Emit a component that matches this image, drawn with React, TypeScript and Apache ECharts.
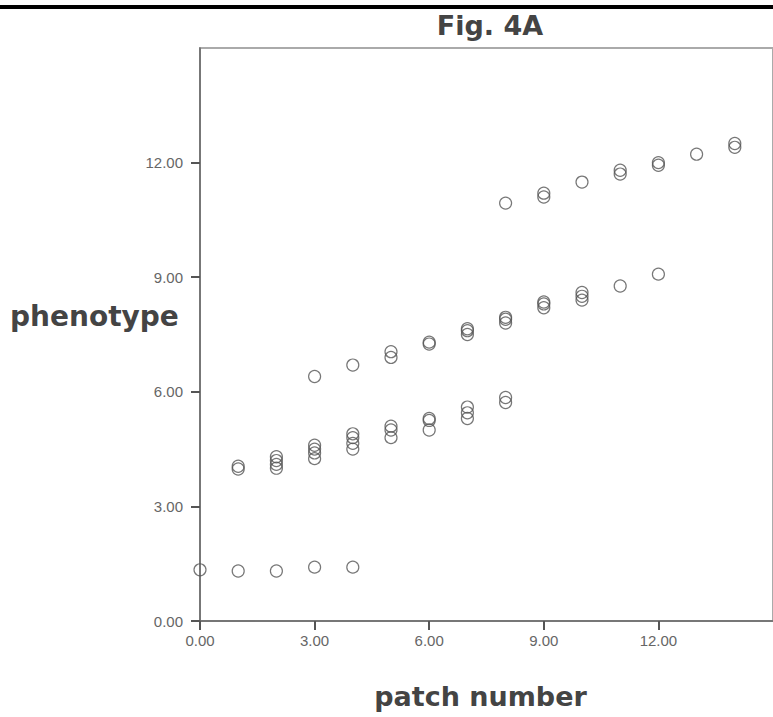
import React, { useEffect, useRef } from "react";
import * as echarts from "echarts";

const titleText = "Fig. 4A";
const xAxisTitle = "patch number";
const yAxisTitle = "phenotype";

// group 1: bottom row
const bottomX = [0, 1, 2, 3, 4];
const bottomY = [1.34, 1.31, 1.31, 1.41, 1.41];

// group 2: lower band
const lowerX = [1, 1, 2, 2, 2, 2, 3, 3, 3, 3, 4, 4, 4, 4, 5, 5, 5, 6, 6, 6, 7, 7, 7, 8, 8];
const lowerY = [3.98, 4.05, 4.0, 4.1, 4.2, 4.3, 4.25, 4.4, 4.5, 4.6, 4.5, 4.65, 4.8, 4.9, 4.8, 5.0, 5.1, 5.0, 5.25, 5.3, 5.3, 5.45, 5.6, 5.72, 5.85];

// group 3: middle band
const middleX = [3, 4, 5, 5, 6, 6, 7, 7, 7, 8, 8, 8, 9, 9, 9, 10, 10, 10, 11, 12];
const middleY = [6.4, 6.7, 6.9, 7.05, 7.25, 7.3, 7.5, 7.6, 7.65, 7.8, 7.9, 7.95, 8.2, 8.3, 8.35, 8.4, 8.5, 8.6, 8.77, 9.08];

// group 4: upper band
const upperX = [8, 9, 9, 10, 11, 11, 12, 12, 13, 14, 14];
const upperY = [10.94, 11.1, 11.2, 11.49, 11.7, 11.8, 11.93, 12.0, 12.22, 12.4, 12.5];

const xTicks = [0, 3, 6, 9, 12, 15];
const yTicks = [0, 3, 6, 9, 12, 15];

function pairs(xs: number[], ys: number[]) {
  return xs.map((x, i) => [x, ys[i]]);
}

export default function App() {
  const ref = useRef<HTMLDivElement>(null);
  useEffect(() => {
    if (!ref.current) return;
    const chart = echarts.init(ref.current, null, { renderer: "svg" });
    const data = [
      ...pairs(bottomX, bottomY),
      ...pairs(lowerX, lowerY),
      ...pairs(middleX, middleY),
      ...pairs(upperX, upperY),
    ];
    const labelStyle = {
      fontFamily: "Liberation Sans",
      fontSize: 15,
      color: "#666",
      formatter: (v: number) => v.toFixed(2),
      showMaxLabel: false,
    };
    chart.setOption({
      animation: false,
      backgroundColor: "#fff",
      title: {
        text: titleText,
        left: 485,
        textAlign: "center",
        top: 7,
        textStyle: {
          fontFamily: "DejaVu Sans",
          fontWeight: "bold",
          fontSize: 27,
          color: "#444",
        },
      },
      grid: {
        left: 200,
        top: 48,
        right: -4.5,
        bottom: 96,
        show: true,
        borderColor: "#aaa",
        borderWidth: 2,
        backgroundColor: "transparent",
      },
      xAxis: {
        type: "value",
        min: xTicks[0],
        max: xTicks[xTicks.length - 1],
        interval: 3,
        name: xAxisTitle,
        nameLocation: "middle",
        nameGap: 62,
        nameTextStyle: {
          fontFamily: "DejaVu Sans",
          fontWeight: "bold",
          fontSize: 27,
          color: "#444",
          padding: [0, 12, 0, 0],
        },
        axisLine: { onZero: false, lineStyle: { color: "#666", width: 1.5 } },
        axisTick: { show: true, length: 9, lineStyle: { color: "#555", width: 2 } },
        axisLabel: { ...labelStyle, margin: 12 },
        splitLine: { show: false },
      },
      yAxis: {
        type: "value",
        min: yTicks[0],
        max: yTicks[yTicks.length - 1],
        interval: 3,
        axisLine: { onZero: false, lineStyle: { color: "#666", width: 1.5 } },
        axisTick: { show: true, length: 9, lineStyle: { color: "#555", width: 2 } },
        axisLabel: { ...labelStyle, margin: 17 },
        splitLine: { show: false },
      },
      graphic: [
        {
          type: "rect",
          left: 0,
          top: 5,
          shape: { width: 773, height: 4 },
          style: { fill: "#000" },
        },
        {
          type: "text",
          left: 10,
          top: 302,
          style: {
            text: yAxisTitle,
            fontFamily: "DejaVu Sans",
            fontWeight: "bold",
            fontSize: 28,
            fill: "#444",
          },
        },
      ],
      series: [
        {
          type: "scatter",
          data,
          symbol: "circle",
          symbolSize: 12,
          itemStyle: {
            color: "rgba(0,0,0,0)",
            borderColor: "#555",
            borderWidth: 1.2,
          },
        },
      ],
    });
    return () => chart.dispose();
  }, []);
  return (
    <div
      ref={ref}
      style={{ position: "absolute", left: 0, top: 0, width: 773, height: 717 }}
    />
  );
}
